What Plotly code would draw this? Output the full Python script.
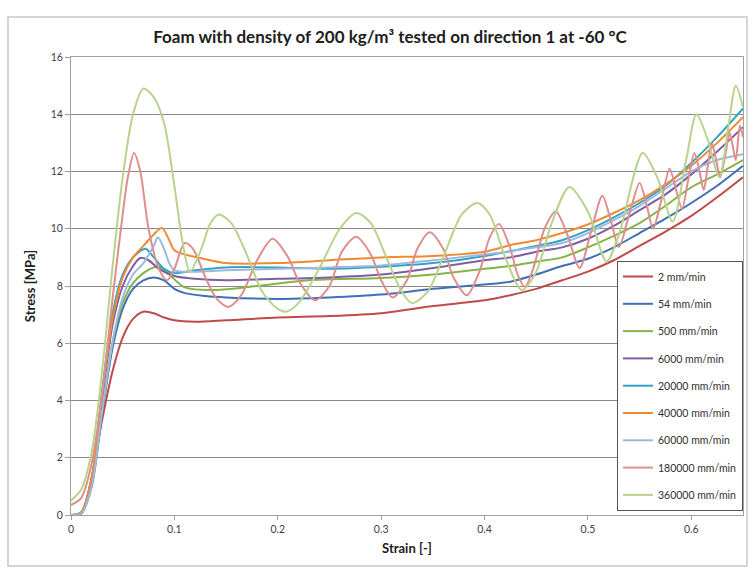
import plotly.graph_objects as go

# ---- data (strain [-], stress [MPa]) ----
names = ["2 mm/min", "54 mm/min", "500 mm/min", "6000 mm/min", "20000 mm/min",
         "40000 mm/min", "60000 mm/min", "180000 mm/min", "360000 mm/min"]
colors = ["#BE4B48", "#3F6FB6", "#86B24A", "#7D5EA2", "#31A4C6",
          "#F08A30", "#9DB9DE", "#DD8F8D", "#B8D38C"]

x_2 = [0, 0.01, 0.02, 0.03, 0.04, 0.05, 0.06, 0.07, 0.08, 0.09, 0.1, 0.12, 0.15, 0.2, 0.25, 0.3,
       0.35, 0.4, 0.425, 0.45, 0.475, 0.5, 0.525, 0.55, 0.575, 0.6, 0.625, 0.65]
y_2 = [0, 0.1, 1.3, 3.3, 5.0, 6.2, 6.85, 7.1, 7.05, 6.9, 6.8, 6.75, 6.8, 6.9, 6.95, 7.05,
       7.3, 7.5, 7.68, 7.9, 8.2, 8.5, 8.9, 9.4, 9.9, 10.45, 11.1, 11.8]

x_54 = [0, 0.01, 0.02, 0.03, 0.04, 0.05, 0.06, 0.07, 0.08, 0.09, 0.1, 0.11, 0.13, 0.15, 0.2, 0.25,
        0.3, 0.35, 0.4, 0.425, 0.45, 0.475, 0.5, 0.525, 0.55, 0.575, 0.6, 0.625, 0.65]
y_54 = [0, 0.05, 1.0, 3.5, 5.8, 7.2, 7.9, 8.2, 8.3, 8.2, 7.9, 7.75, 7.65, 7.6, 7.55, 7.6,
        7.7, 7.9, 8.05, 8.15, 8.4, 8.7, 8.95, 9.35, 9.85, 10.35, 10.9, 11.5, 12.2]

x_500 = [0, 0.01, 0.02, 0.03, 0.04, 0.05, 0.06, 0.07, 0.08, 0.085, 0.095, 0.11, 0.14, 0.18, 0.23,
         0.3, 0.35, 0.4, 0.425, 0.45, 0.475, 0.5, 0.525, 0.55, 0.575, 0.6, 0.625, 0.65]
y_500 = [0, 0.05, 1.1, 3.6, 6.0, 7.4, 8.1, 8.45, 8.65, 8.67, 8.4, 7.95, 7.86, 8.0, 8.2,
         8.28, 8.4, 8.6, 8.7, 8.85, 9.0, 9.35, 9.75, 10.2, 10.8, 11.45, 11.9, 12.4]

x_6000 = [0, 0.01, 0.02, 0.03, 0.04, 0.05, 0.06, 0.067, 0.075, 0.085, 0.1, 0.12, 0.15, 0.2, 0.25,
          0.3, 0.35, 0.4, 0.425, 0.45, 0.475, 0.5, 0.525, 0.55, 0.575, 0.6, 0.625, 0.65]
y_6000 = [0, 0.05, 1.2, 4.0, 6.6, 8.0, 8.7, 8.98, 8.9, 8.6, 8.35, 8.25, 8.2, 8.25, 8.3,
          8.4, 8.63, 8.9, 9.0, 9.2, 9.35, 9.65, 10.1, 10.65, 11.2, 11.9, 12.7, 13.55]

x_20000 = [0, 0.01, 0.02, 0.03, 0.04, 0.05, 0.06, 0.072, 0.08, 0.09, 0.1, 0.12, 0.15, 0.2, 0.25,
           0.3, 0.35, 0.4, 0.45, 0.475, 0.5, 0.525, 0.55, 0.575, 0.6, 0.625, 0.65]
y_20000 = [0, 0.1, 1.3, 4.3, 7.0, 8.4, 9.0, 9.3, 9.0, 8.6, 8.45, 8.55, 8.65, 8.65, 8.6,
           8.67, 8.8, 9.05, 9.4, 9.6, 9.95, 10.4, 10.9, 11.5, 12.3, 13.2, 14.2]

x_40000 = [0, 0.01, 0.02, 0.03, 0.04, 0.05, 0.06, 0.07, 0.08, 0.088, 0.095, 0.1, 0.11, 0.125, 0.15,
           0.2, 0.25, 0.3, 0.35, 0.4, 0.425, 0.45, 0.475, 0.5, 0.525, 0.55, 0.575, 0.6, 0.625, 0.65]
y_40000 = [0, 0.1, 1.3, 4.2, 6.8, 8.3, 9.0, 9.4, 9.8, 10.03, 9.6, 9.25, 9.1, 8.98, 8.8,
           8.8, 8.9, 9.0, 9.05, 9.2, 9.43, 9.6, 9.85, 10.15, 10.55, 11.0, 11.55, 12.2, 13.0, 13.9]

x_60000 = [0, 0.01, 0.02, 0.03, 0.04, 0.05, 0.06, 0.07, 0.08, 0.084, 0.09, 0.095, 0.1, 0.12, 0.15,
           0.2, 0.25, 0.3, 0.35, 0.4, 0.45, 0.475, 0.5, 0.525, 0.55, 0.575, 0.6, 0.625, 0.65]
y_60000 = [0, 0.05, 1.0, 3.6, 6.0, 7.6, 8.4, 8.8, 9.4, 9.7, 9.3, 8.8, 8.55, 8.5, 8.55,
           8.6, 8.65, 8.72, 8.9, 9.1, 9.35, 9.5, 9.85, 10.3, 10.8, 11.4, 12.0, 12.4, 12.6]

x_180000 = [0, 0.01, 0.02, 0.03, 0.04, 0.05, 0.055, 0.061, 0.067, 0.075, 0.085, 0.093, 0.1, 0.11,
            0.118, 0.13, 0.14, 0.152, 0.165, 0.18, 0.195, 0.21, 0.22, 0.236, 0.25, 0.262, 0.276,
            0.29, 0.3, 0.311, 0.325, 0.335, 0.347, 0.36, 0.37, 0.383, 0.395, 0.405, 0.414, 0.425,
            0.432, 0.439, 0.447, 0.458, 0.469, 0.48, 0.492, 0.503, 0.514, 0.522, 0.53, 0.54, 0.55,
            0.557, 0.563, 0.571, 0.579, 0.585, 0.591, 0.597, 0.603, 0.608, 0.612, 0.616, 0.62,
            0.624, 0.628, 0.633, 0.637, 0.64, 0.643, 0.647, 0.65]
y_180000 = [0.35, 0.6, 1.8, 4.2, 7.5, 10.5, 11.8, 12.65, 12.0, 10.0, 8.6, 8.2, 8.6, 9.5,
            9.3, 8.3, 7.6, 7.27, 7.7, 8.9, 9.65, 9.0, 8.2, 7.5, 8.0, 9.2, 9.72,
            9.1, 8.2, 7.6, 8.2, 9.3, 9.88, 9.3, 8.3, 7.68, 8.5, 9.7, 10.17, 9.3,
            8.4, 7.97, 8.6, 10.0, 10.6, 9.8, 8.63, 9.9, 11.15, 10.3, 9.36, 10.5, 11.6,
            10.8, 10.0, 11.0, 12.1, 11.4, 10.7, 11.7, 12.65, 12.0, 11.35, 12.2, 13.0,
            12.4, 11.8, 12.6, 13.35, 12.9, 12.4, 13.6, 13.2]

x_360000 = [0, 0.01, 0.02, 0.03, 0.04, 0.05, 0.06, 0.07, 0.08, 0.09, 0.1, 0.108, 0.115, 0.125,
            0.135, 0.143, 0.155, 0.17, 0.185, 0.2, 0.208, 0.22, 0.24, 0.26, 0.276, 0.29, 0.305,
            0.32, 0.33, 0.345, 0.36, 0.378, 0.393, 0.405, 0.42, 0.436, 0.45, 0.465, 0.482, 0.5,
            0.518, 0.53, 0.553, 0.567, 0.582, 0.595, 0.605, 0.616, 0.627, 0.636, 0.643, 0.65]
y_360000 = [0.5, 0.9, 2.2, 5.0, 8.6, 11.8, 14.0, 14.9, 14.6, 13.7, 11.5, 9.5, 8.5, 9.2,
            10.2, 10.5, 10.2, 9.1, 7.8, 7.2, 7.1, 7.4, 8.6, 10.0, 10.55, 10.2, 9.0,
            7.8, 7.4, 7.8, 9.0, 10.5, 10.9, 10.5, 9.0, 7.86, 8.5, 10.2, 11.46, 10.6,
            8.85, 9.8, 12.65, 11.8, 10.25, 12.4, 14.0, 13.1, 11.8, 13.6, 15.0, 14.25]

xs = [x_2, x_54, x_500, x_6000, x_20000, x_40000, x_60000, x_180000, x_360000]
ys = [y_2, y_54, y_500, y_6000, y_20000, y_40000, y_60000, y_180000, y_360000]

x_ticks = [0, 0.1, 0.2, 0.3, 0.4, 0.5, 0.6]
x_tick_labels = ["0", "0.1", "0.2", "0.3", "0.4", "0.5", "0.6"]
y_ticks = [0, 2, 4, 6, 8, 10, 12, 14, 16]

fig = go.Figure()
for i, (n, c) in enumerate(zip(names, colors)):
    fig.add_trace(go.Scatter(
        x=xs[i], y=ys[i], mode="lines", name=n, legendgroup=n,
        line=dict(color=c, width=2, shape="spline", smoothing=0.8),
    ))

FONT = "Lato, Carlito, Calibri, sans-serif"

fig.update_layout(
    width=750, height=569,
    margin=dict(l=71, r=7, t=57, b=54),
    paper_bgcolor="white", plot_bgcolor="white",
    font=dict(family=FONT, size=10.5, color="#404040"),
    title=dict(text="<b>Foam with density of 200 kg/m³ tested on direction 1 at -60 °C</b>",
               x=390 / 750, xanchor="center", y=1 - 37 / 569, yanchor="middle",
               font=dict(family=FONT, size=17, color="#202020")),
    showlegend=True,
    legend=dict(x=(617 - 71) / 672, xanchor="left", y=(515 - 511) / 458, yanchor="bottom",
                bgcolor="white", bordercolor="#555555", borderwidth=1,
                font=dict(family=FONT, size=10.5, color="#303030"),
                tracegroupgap=8.3, itemwidth=30),
    xaxis=dict(range=[0, 0.65], tickvals=x_ticks, ticktext=x_tick_labels,
               showgrid=False, zeroline=False, showline=True, linecolor="#A0A0A0",
               linewidth=1, mirror=True, ticks="outside", ticklen=4, tickcolor="#A0A0A0",
               title=dict(text="<b>Strain [-]</b>", font=dict(family=FONT, size=13, color="#202020"),
                          standoff=10)),
    yaxis=dict(range=[0, 16], tickvals=y_ticks, showgrid=True, gridcolor="#8A8A8A", gridwidth=1.2,
               zeroline=False, showline=True, linecolor="#A0A0A0", linewidth=1, mirror=True,
               ticks="outside", ticklen=5, tickcolor="#A0A0A0",
               title=dict(text="<b>Stress [MPa]</b>", font=dict(family=FONT, size=13, color="#202020"),
                          standoff=12)),
    shapes=[dict(type="rect", xref="paper", yref="paper",
                 x0=(8 - 71) / 672, x1=(747 - 71) / 672,
                 y0=(515 - 566) / 458, y1=(515 - 17) / 458,
                 line=dict(color="#C8C8C8", width=1.5), fillcolor="rgba(0,0,0,0)", layer="below")],
)

fig.write_html("out.html")
